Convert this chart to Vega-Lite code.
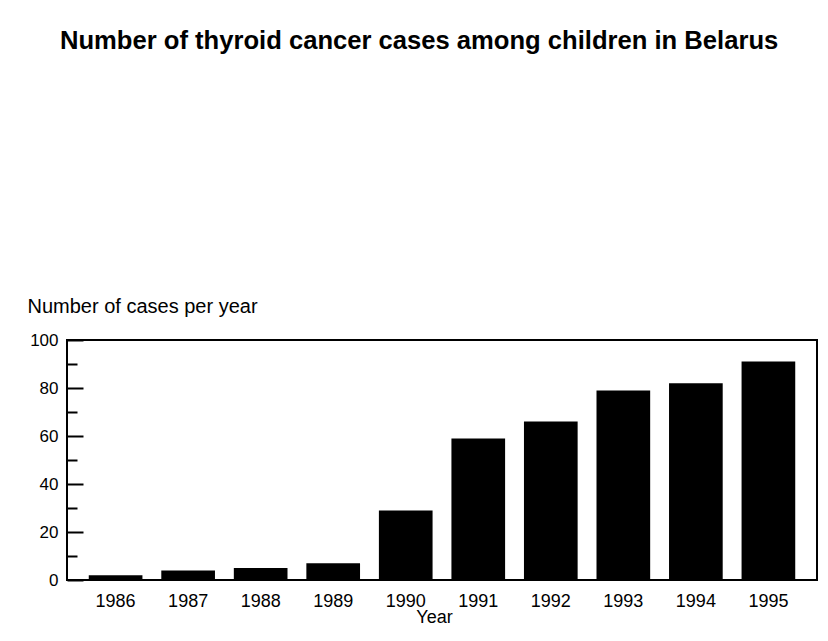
{
  "$schema": "https://vega.github.io/schema/vega-lite/v6.json",
  "width": 750,
  "height": 240,
  "autosize": "none",
  "padding": {"left": 67, "top": 340, "right": 11, "bottom": 61},
  "background": "white",
  "title": {
    "text": "Number of thyroid cancer cases among children in Belarus",
    "anchor": "start",
    "frame": "group",
    "dx": -7,
    "offset": 222,
    "baseline": "alphabetic",
    "fontSize": 25.6,
    "fontWeight": "bold",
    "font": "Liberation Sans",
    "color": "black"
  },
  "data": {
    "values": [
      {"year": 1986, "cases": 2},
      {"year": 1987, "cases": 4},
      {"year": 1988, "cases": 5},
      {"year": 1989, "cases": 7},
      {"year": 1990, "cases": 29},
      {"year": 1991, "cases": 59},
      {"year": 1992, "cases": 66},
      {"year": 1993, "cases": 79},
      {"year": 1994, "cases": 82},
      {"year": 1995, "cases": 91}
    ]
  },
  "mark": {"type": "bar", "color": "black"},
  "encoding": {
    "x": {
      "field": "year",
      "type": "ordinal",
      "scale": {"paddingInner": 0.26, "paddingOuter": 0.3},
      "axis": {
        "title": "Year",
        "labelAngle": 0,
        "ticks": false,
        "labelPadding": 12,
        "labelFontSize": 18,
        "titleFontSize": 18,
        "titleFontWeight": "normal",
        "titleX": 367,
        "titleY": 42,
        "titleBaseline": "alphabetic",
        "titleAlign": "center"
      }
    },
    "y": {
      "field": "cases",
      "type": "quantitative",
      "scale": {"domain": [0, 100], "nice": false},
      "axis": {
        "title": "Number of cases per year",
        "titleAngle": 0,
        "titleAlign": "left",
        "titleBaseline": "alphabetic",
        "titleX": -40,
        "titleY": -27.5,
        "titleFontSize": 20,
        "titleFontWeight": "normal",
        "values": [0, 10, 20, 30, 40, 50, 60, 70, 80, 90, 100],
        "labelExpr": "datum.value % 20 === 0 ? datum.label : ''",
        "tickSize": {"condition": {"test": "datum.value % 20 === 0", "value": -16}, "value": -10},
        "tickWidth": 2,
        "tickColor": "black",
        "labelPadding": 25,
        "labelFontSize": 17
      }
    }
  },
  "config": {
    "view": {"stroke": "black", "strokeWidth": 2},
    "axis": {
      "labelFont": "Liberation Sans",
      "titleFont": "Liberation Sans",
      "labelColor": "black",
      "titleColor": "black",
      "grid": false,
      "domain": false
    }
  }
}
